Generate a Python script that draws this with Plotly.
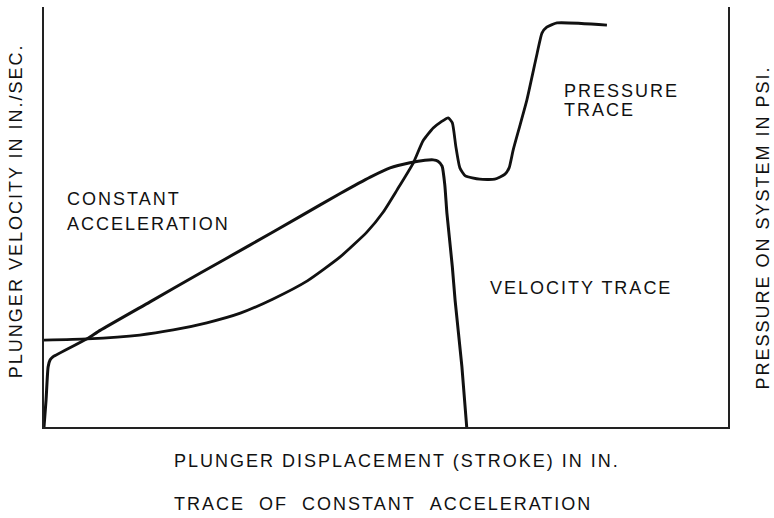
import plotly.graph_objects as go

# Velocity trace: plunger position (% of stroke) vs velocity (% of full scale)
vel_stroke = [0.0, 0.3, 0.6, 0.9, 1.3, 6.3, 8.2, 15.5, 22.8, 30.1, 37.4, 43.3, 47.7,
              50.6, 53.5, 55.7, 56.9, 57.6, 58.2, 58.6, 58.9, 59.7, 60.1, 61.1, 61.8]
vel_value = [0.0, 6.4, 14.3, 16.0, 16.7, 21.0, 23.0, 29.8, 36.6, 43.3, 50.1, 55.6, 59.5,
             61.7, 62.9, 63.5, 63.6, 63.3, 62.1, 57.6, 51.0, 38.1, 30.2, 14.3, 0.0]

# Pressure trace: plunger position (% of stroke) vs system pressure (% of full scale)
prs_stroke = [0.0, 6.3, 14.0, 18.9, 23.8, 28.7, 33.5, 38.5, 43.3, 47.2, 49.6, 51.6, 54.0,
              55.4, 56.9, 58.0, 59.1, 59.7, 60.2, 60.8, 61.6, 63.7, 65.9, 67.4, 68.0, 68.6,
              69.6, 70.6, 72.1, 72.8, 73.5, 75.0, 82.3]
prs_value = [20.7, 21.0, 21.9, 23.1, 24.8, 27.1, 30.5, 34.8, 40.5, 46.4, 51.2, 56.4, 62.9,
             68.1, 71.2, 72.6, 73.6, 72.4, 66.9, 61.7, 59.8, 59.0, 59.0, 60.2, 61.7, 66.0,
             71.9, 77.9, 89.0, 93.8, 95.2, 96.2, 95.7]

y_title_left = "PLUNGER VELOCITY IN IN./SEC."
y_title_right = "PRESSURE ON SYSTEM IN PSI."
x_title = "PLUNGER DISPLACEMENT (STROKE) IN IN."
caption = "TRACE\u00a0\u00a0OF\u00a0\u00a0CONSTANT\u00a0\u00a0ACCELERATION"

FONT = "Liberation Sans, Arial, Helvetica, sans-serif"
INK = "#111111"


def spaced(text):
    return '<span style="letter-spacing:2px">' + text + "</span>"


fig = go.Figure()
fig.add_trace(go.Scatter(x=vel_stroke, y=vel_value, mode="lines",
                         line=dict(color=INK, width=3, shape="spline", smoothing=0.5),
                         hoverinfo="skip"))
fig.add_trace(go.Scatter(x=prs_stroke, y=prs_value, mode="lines", yaxis="y2",
                         line=dict(color=INK, width=2.8, shape="spline", smoothing=0.5),
                         hoverinfo="skip"))

axis_common = dict(showgrid=False, zeroline=False, showticklabels=False, ticks="",
                   range=[0, 100], fixedrange=True)

fig.update_layout(
    width=774, height=518,
    margin=dict(l=44, r=46, t=7, b=91),
    paper_bgcolor="white", plot_bgcolor="white",
    showlegend=False,
    font=dict(family=FONT, size=18, color=INK),
    xaxis=dict(**axis_common, showline=True, linecolor="#222222", linewidth=1.6),
    yaxis=dict(**axis_common, showline=True, linecolor="#222222", linewidth=1.6),
    yaxis2=dict(**axis_common, overlaying="y", side="right", showline=True,
                linecolor="#222222", linewidth=1.6),
)

labels = [
    ("CONSTANT", 0.0307, 0.543, "left", 0),
    ("ACCELERATION", 0.0307, 0.483, "left", 0),
    ("PRESSURE", 0.757, 0.801, "left", 0),
    ("TRACE", 0.757, 0.754, "left", 0),
    ("VELOCITY TRACE", 0.649, 0.331, "left", 0),
    (x_title, 0.187, -0.081, "left", 0),
    (caption, 0.187, -0.183, "left", 0),
    (y_title_left, -0.0409, 0.514, "center", -90),
    (y_title_right, 1.0505, 0.474, "center", -90),
]
for text, x, y, xa, ang in labels:
    fig.add_annotation(text=spaced(text), x=x, y=y, xref="paper", yref="paper",
                       xanchor=xa, yanchor="middle", showarrow=False,
                       textangle=ang, font=dict(family=FONT, size=18, color=INK))

fig.write_html("out.html", config={"displayModeBar": False})
